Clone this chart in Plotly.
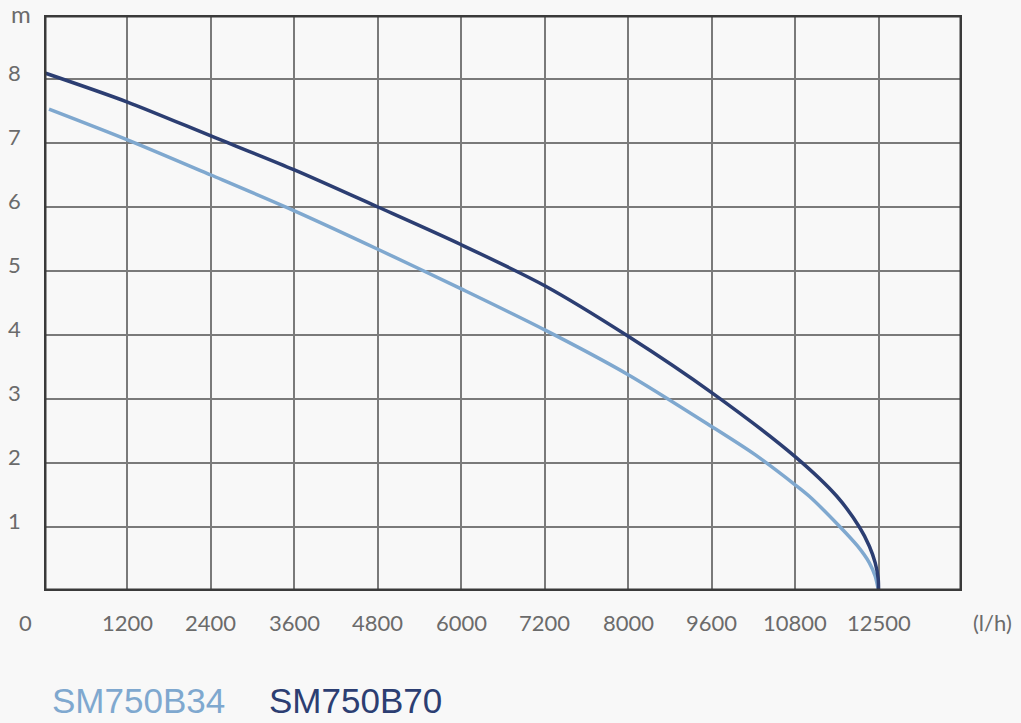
import numpy as np
import plotly.graph_objects as go

# x axis: tick labels (l/h) sit on equally spaced grid lines
tick_flows = [0, 1200, 2400, 3600, 4800, 6000, 7200, 8000, 9600, 10800, 12500]
tick_labels = ["0", "1200", "2400", "3600", "4800", "6000", "7200", "8000", "9600", "10800", "12500"]
y_ticks = [1, 2, 3, 4, 5, 6, 7, 8]

# pump curves: flow (l/h) and head (m)
b70_flow = [24, 1200, 2400, 3600, 4800, 6000, 7200, 8000, 9600, 10800, 11650, 12109, 12313, 12432, 12492, 12500]
b70_head = [8.09, 7.64, 7.11, 6.58, 6.00, 5.41, 4.77, 3.98, 3.10, 2.10, 1.48, 1.00, 0.70, 0.44, 0.20, 0.0]

b34_flow = [72, 1200, 2400, 3600, 4800, 6000, 7200, 8000, 9600, 10224, 10800, 11089, 11718, 12075, 12313, 12432, 12500]
b34_head = [7.53, 7.05, 6.50, 5.94, 5.34, 4.72, 4.08, 3.38, 2.57, 2.13, 1.66, 1.48, 1.00, 0.70, 0.44, 0.23, 0.0]

LIGHT = "#7fa8cf"
DARK = "#2c3e72"
TEXT = "#6b6b6b"
BG = "#f8f8f8"

tick_pos = list(range(len(tick_flows)))


def to_pos(flow):
    """Map flow in l/h onto the evenly spaced grid positions."""
    return np.interp(flow, tick_flows, tick_pos)


fig = go.Figure()
fig.add_trace(go.Scatter(x=to_pos(b34_flow), y=b34_head, mode="lines",
                         line=dict(color=LIGHT, width=3.5, shape="spline", smoothing=0.8),
                         hoverinfo="skip"))
fig.add_trace(go.Scatter(x=to_pos(b70_flow), y=b70_head, mode="lines",
                         line=dict(color=DARK, width=3.5, shape="spline", smoothing=0.8),
                         hoverinfo="skip"))

fig.update_xaxes(range=[0, 11], tickvals=tick_pos, showticklabels=False,
                 showgrid=True, gridcolor="#7a7a7a", gridwidth=2, zeroline=False, fixedrange=True)
fig.update_yaxes(range=[0, 9], tickvals=[0] + y_ticks, showticklabels=False,
                 showgrid=True, gridcolor="#7a7a7a", gridwidth=2, zeroline=False, fixedrange=True)

# heavy frame
fig.add_shape(type="rect", xref="x", yref="y", x0=0, x1=11, y0=0, y1=9,
              line=dict(color="#3a3a3a", width=5), layer="above")

ann = []
for i, lab in enumerate(tick_labels):
    shift = -19 if lab == "0" else 0
    ann.append(dict(x=tick_pos[i], y=0, xref="x", yref="y", text=lab, showarrow=False,
                    xshift=shift, yshift=-31, font=dict(size=22, color=TEXT)))
ann.append(dict(x=11, y=0, xref="x", yref="y", text="(l/h)", showarrow=False,
                xshift=30, yshift=-31, font=dict(size=22, color=TEXT)))
for v in y_ticks:
    ann.append(dict(x=0, y=v, xref="x", yref="y", text=str(v), showarrow=False,
                    xshift=-30, yshift=7, font=dict(size=22, color=TEXT)))
ann.append(dict(x=0, y=9, xref="x", yref="y", text="m", showarrow=False,
                xshift=-23, yshift=2, font=dict(size=24, color=TEXT)))

# series names below the plot (pixel positions converted to paper coords)
plot_w = 1021 - 44 - 59
plot_h = 723 - 15 - 132
for name, colour, px_left in [("SM750B34", LIGHT, 50), ("SM750B70", DARK, 267)]:
    ann.append(dict(x=(px_left - 44) / plot_w, y=(723 - 132 - 700) / plot_h,
                    xref="paper", yref="paper", xanchor="left", yanchor="middle",
                    text=name, showarrow=False,
                    font=dict(size=35, color=colour, family="Liberation Sans, Arial")))

fig.update_layout(
    width=1021, height=723,
    margin=dict(l=44, r=59, t=15, b=132),
    paper_bgcolor=BG, plot_bgcolor=BG,
    showlegend=False,
    font=dict(family="Lato, Noto Sans, sans-serif"),
    annotations=ann,
)

fig.write_html("out.html", config={"displayModeBar": False},
               post_script="document.body.style.margin='0';document.body.style.background='#f8f8f8';")
